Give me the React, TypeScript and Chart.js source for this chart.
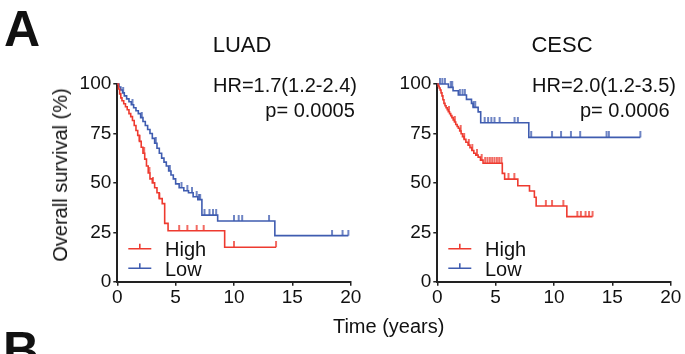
import React, { useEffect, useRef } from "react";
import { Chart, registerables } from "chart.js";

Chart.register(...registerables);

const FONT = '"Liberation Sans", Arial, Helvetica, sans-serif';
const RED = "#ee3a2f";
const BLUE = "#3f5cb0";
const AXIS = "#222";

// ---------- LUAD ----------
const luadHighTimes = [0, 0.1, 0.2, 0.3, 0.4, 0.55, 0.7, 0.85, 1.0, 1.15, 1.3, 1.45, 1.6, 1.75, 1.9, 2.05, 2.2, 2.35, 2.5, 2.65, 2.8, 3.0, 3.2, 3.4, 3.6, 3.85, 4.06, 4.35, 9.2, 13.6];
const luadHighSurv = [100, 97.5, 95, 93, 91.5, 90, 88.5, 87, 85, 83.5, 81.5, 79, 76.5, 74, 71, 68, 65, 62, 58.5, 55, 52, 50, 47.5, 45, 42, 39.5, 29.5, 25.8, 17.4, 17.4];
const luadHighCensor = [1.9, 2.3, 2.75, 3.05, 3.6, 5.3, 6.0, 6.8, 7.4, 10.0, 13.6];

const luadLowTimes = [0, 0.15, 0.3, 0.45, 0.6, 0.8, 1.0, 1.2, 1.4, 1.6, 1.8, 2.0, 2.2, 2.4, 2.6, 2.8, 3.0, 3.2, 3.4, 3.6, 3.8, 4.0, 4.2, 4.4, 4.6, 4.8, 5.0, 5.3, 5.7, 6.1, 6.5, 6.9, 7.25, 8.6, 13.5, 19.8];
const luadLowSurv = [100, 98.5, 97, 95.5, 94, 92.5, 91, 89.5, 88, 86.5, 85, 83, 81, 79, 77, 75, 72.5, 70, 67.5, 65, 62.5, 60.5, 58.5, 56, 54, 52, 49.5, 47.5, 46, 45, 43, 41.5, 33.7, 30.7, 23.3, 23.3];
const luadLowCensor = [0.5, 1.3, 2.1, 3.3, 4.5, 5.5, 6.0, 6.4, 6.8, 7.0, 7.1, 7.47, 7.9, 8.2, 8.47, 10.0, 10.4, 10.7, 13.0, 18.4, 19.3, 19.8];

// ---------- CESC ----------
const cescHighTimes = [0, 0.08, 0.16, 0.24, 0.32, 0.4, 0.48, 0.57, 0.66, 0.75, 0.85, 0.94, 1.05, 1.15, 1.25, 1.36, 1.47, 1.58, 1.7, 1.8, 1.92, 2.04, 2.16, 2.3, 2.45, 2.64, 2.8, 2.96, 3.13, 3.3, 3.5, 3.7, 3.92, 5.57, 5.77, 6.9, 7.9, 8.32, 8.47, 11.1, 13.3];
const cescHighSurv = [100, 99, 98, 97, 95.5, 94, 92, 90.2, 89, 88, 87, 86, 85, 84, 83, 81.8, 80.8, 79.5, 78.5, 77.6, 76.2, 74.8, 73.4, 72, 70.5, 69.1, 67.8, 66.4, 65, 64, 63, 61.5, 59.9, 54.8, 51.9, 48.5, 45.9, 42.7, 38.3, 32.9, 32.9];
const cescHighCensor = [1.0, 1.5, 2.0, 2.3, 2.7, 3.0, 3.4, 3.8, 4.1, 4.3, 4.5, 4.7, 4.9, 5.1, 5.3, 5.5, 6.1, 6.6, 9.3, 9.83, 10.8, 12.0, 12.3, 12.7, 13.0, 13.3];

const cescLowTimes = [0, 0.95, 1.35, 1.8, 2.5, 2.93, 3.07, 3.5, 3.72, 7.84, 17.4];
const cescLowSurv = [100, 98.3, 96.6, 94.4, 92.2, 90.2, 88.2, 85.9, 80.4, 73, 73];
const cescLowCensor = [0.23, 0.43, 0.65, 1.15, 1.28, 1.93, 2.16, 2.36, 3.1, 3.25, 4.06, 4.35, 4.63, 4.9, 5.34, 6.62, 6.9, 8.04, 9.83, 10.6, 11.45, 12.24, 14.5, 14.7, 17.4];

const xTickMax = 20;
const xTickStep = 5;
const yTickMax = 100;
const yTickStep = 25;

function survAt(t: number, times: number[], surv: number[]) {
  let v = surv[0];
  for (let i = 0; i < times.length; i++) if (times[i] <= t) v = surv[i];
  return v;
}

function makeTick(color: string) {
  const c = document.createElement("canvas");
  c.width = 4;
  c.height = 12;
  const g = c.getContext("2d")!;
  g.strokeStyle = color;
  g.lineWidth = 1.5;
  g.beginPath();
  g.moveTo(2, 0);
  g.lineTo(2, 6);
  g.stroke();
  return c;
}

type PanelCfg = {
  title: string;
  hr: string;
  p: string;
  hrX: number;
  pX: number;
  yWidth: number;
  rightPad: number;
  high: [number[], number[], number[]];
  low: [number[], number[], number[]];
};

function buildChart(canvas: HTMLCanvasElement, cfg: PanelCfg) {
  const tickR = makeTick(RED);
  const tickB = makeTick(BLUE);
  const curve = (times: number[], surv: number[], color: string) => ({
    type: "line" as const,
    data: times.map((t, i) => ({ x: t, y: surv[i] })),
    borderColor: color,
    borderWidth: 1.6,
    stepped: "before" as const,
    pointRadius: 0,
    fill: false,
    clip: false as any,
  });
  const cens = (times: number[], surv: number[], c: number[], img: HTMLCanvasElement) => ({
    type: "line" as const,
    showLine: false,
    data: c.map((t) => ({ x: t, y: survAt(t, times, surv) })),
    pointStyle: img,
    pointRadius: 3,
    clip: false as any,
  });

  const annot = {
    id: "annot",
    afterDraw(chart: any) {
      const { ctx, chartArea: a } = chart;
      ctx.save();
      ctx.fillStyle = "#111";
      ctx.textBaseline = "alphabetic";
      ctx.font = `22px ${FONT}`;
      ctx.textAlign = "center";
      ctx.fillText(cfg.title, (a.left + a.right) / 2 + 8, 51.7);
      ctx.font = `20px ${FONT}`;
      ctx.textAlign = "left";
      ctx.fillText(cfg.hr, a.left + cfg.hrX, 91.5);
      ctx.fillText(cfg.p, a.left + cfg.pX, 117);
      const items: [string, string, number][] = [
        ["High", RED, a.bottom - 33],
        ["Low", BLUE, a.bottom - 13.5],
      ];
      for (const [label, color, y] of items) {
        ctx.strokeStyle = color;
        ctx.lineWidth = 1.6;
        ctx.beginPath();
        ctx.moveTo(a.left + 11, y);
        ctx.lineTo(a.left + 34, y);
        ctx.moveTo(a.left + 22.5, y);
        ctx.lineTo(a.left + 22.5, y - 5);
        ctx.stroke();
        ctx.fillStyle = "#111";
        ctx.fillText(label, a.left + 47.7, y + 7.3);
      }
      ctx.restore();
    },
  };

  return new Chart(canvas, {
    type: "line",
    data: {
      datasets: [
        curve(cfg.high[0], cfg.high[1], RED),
        cens(cfg.high[0], cfg.high[1], cfg.high[2], tickR),
        curve(cfg.low[0], cfg.low[1], BLUE),
        cens(cfg.low[0], cfg.low[1], cfg.low[2], tickB),
      ] as any,
    },
    options: {
      animation: false,
      responsive: false,
      events: [],
      layout: { autoPadding: false, padding: { top: 84, right: cfg.rightPad, bottom: 0, left: 0 } },
      plugins: { legend: { display: false }, tooltip: { enabled: false }, title: { display: false } },
      scales: {
        x: {
          type: "linear",
          min: 0,
          max: xTickMax,
          ticks: { stepSize: xTickStep, color: "#111", font: { family: FONT, size: 19 }, padding: 1, maxRotation: 0 },
          grid: { drawOnChartArea: false, drawTicks: true, tickLength: 4, color: AXIS, lineWidth: 1.5 },
          border: { display: true, color: AXIS, width: 2 },
          afterFit: (s: any) => {
            s.height = 354 - 281.7;
          },
        },
        y: {
          type: "linear",
          min: 0,
          max: yTickMax,
          ticks: { stepSize: yTickStep, color: "#111", font: { family: FONT, size: 19 }, padding: 2 },
          grid: { drawOnChartArea: false, drawTicks: true, tickLength: 4, color: AXIS, lineWidth: 1.5 },
          border: { display: true, color: AXIS, width: 2 },
          afterFit: (s: any) => {
            s.width = cfg.yWidth;
          },
        },
      },
    } as any,
    plugins: [annot],
  });
}

export default function App() {
  const c1 = useRef<HTMLCanvasElement>(null);
  const c2 = useRef<HTMLCanvasElement>(null);
  useEffect(() => {
    const ch1 = buildChart(c1.current!, {
      title: "LUAD",
      hr: "HR=1.7(1.2-2.4)",
      p: "p= 0.0005",
      hrX: 95.7,
      pX: 148,
      yWidth: 117.3,
      rightPad: 380 - 350.7,
      high: [luadHighTimes, luadHighSurv, luadHighCensor],
      low: [luadLowTimes, luadLowSurv, luadLowCensor],
    });
    const ch2 = buildChart(c2.current!, {
      title: "CESC",
      hr: "HR=2.0(1.2-3.5)",
      p: "p= 0.0006",
      hrX: 94.7,
      pX: 142.7,
      yWidth: 437.3 - 380,
      rightPad: 305 - 290.7,
      high: [cescHighTimes, cescHighSurv, cescHighCensor],
      low: [cescLowTimes, cescLowSurv, cescLowCensor],
    });
    return () => {
      ch1.destroy();
      ch2.destroy();
    };
  }, []);

  const txt: React.CSSProperties = { position: "absolute", fontFamily: FONT, color: "#111", whiteSpace: "nowrap" };
  return (
    <div style={{ position: "fixed", left: 0, top: 0, width: 685, height: 354, background: "#fff", overflow: "hidden" }}>
      <canvas ref={c1} width={380} height={354} style={{ position: "absolute", left: 0, top: 0, width: 380, height: 354 }} />
      <canvas ref={c2} width={305} height={354} style={{ position: "absolute", left: 380, top: 0, width: 305, height: 354 }} />
      <div style={{ ...txt, left: 4, top: 3.6, fontSize: 50, lineHeight: "50px", fontWeight: "bold" }}>A</div>
      <div style={{ ...txt, left: 3, top: 325, fontSize: 50, lineHeight: "50px", fontWeight: "bold" }}>B</div>
      <div style={{ ...txt, left: 388.7, top: 315.5, fontSize: 20, lineHeight: "20px", transform: "translateX(-50%)" }}>Time (years)</div>
      <div style={{ ...txt, left: 60, top: 175, fontSize: 20, lineHeight: "20px", transform: "translate(-50%, -50%) rotate(-90deg)" }}>Overall survival (%)</div>
    </div>
  );
}
